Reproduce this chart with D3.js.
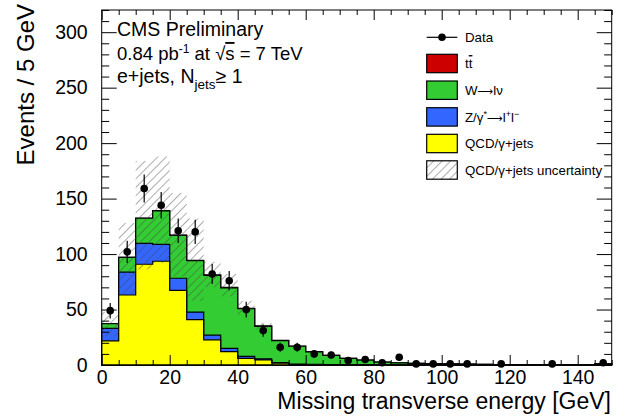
<!DOCTYPE html>
<html>
<head>
<meta charset="utf-8">
<script src="https://cdn.jsdelivr.net/npm/d3@7"></script>
<style>
  body { margin: 0; background: #fff; }
  text { font-family: "Liberation Sans", Arial, Helvetica, sans-serif; fill: #000; }
</style>
</head>
<body>
<div id="chart"></div>
<script>
// canvas constants
const WIDTH = 625;
const HEIGHT = 418;
const margin = { top: 10, right: 13.3, bottom: 53, left: 101.7 };

// binning: 5 GeV bins from 0 to 150
const binLow = d3.range(0, 150, 5);
const BIN = 5;

// MC components, events per bin
const qcd = [21.8, 63.1, 90.8, 93.5, 67.3, 40.9, 22.7, 12.0, 6.0, 4.6, 1.6, 0.4, 0.2, 0, 0,
             0, 0, 0, 0, 0, 0, 0, 0, 0, 0, 0, 0, 0, 0, 0];
const zll = [11.2, 20.6, 18.8, 15.3, 10.9, 6.8, 4.2, 2.9, 1.8, 1.0, 0.6, 0.4, 0.3, 0.2, 0.15,
             0.1, 0.1, 0.05, 0, 0, 0, 0, 0, 0, 0, 0, 0, 0, 0, 0];
const wlnu = [4.2, 13.3, 22.7, 30.1, 38.6, 46.3, 53.9, 54.7, 43.0, 29.3, 19.8, 16.1, 11.4, 8.4, 5.8,
              4.3, 2.5, 1.9, 1.4, 1.15, 0.95, 0.75, 0.55, 0.45, 0.4, 0.35, 0.3, 0.25, 0.2, 1.0];
const ttbar = [0.05, 0.1, 0.2, 0.3, 0.4, 0.4, 0.4, 0.4, 0.35, 0.3, 0.25, 0.2, 0.15, 0.12, 0.1,
               0.08, 0.06, 0.05, 0.04, 0.03, 0.03, 0.02, 0.02, 0.02, 0.01, 0.01, 0.01, 0.01, 0.01, 0.02];

// QCD uncertainty band (lower / upper edge of the hatched area), first bins only
const bandLo = [26, 63, 86, 92, 80, 58, 70, 62, 45, 32];
const bandHi = [48, 128, 184, 188, 155, 132, 93, 82, 58, 38];

// data counts
const dataN = [49, 102, 159, 144, 121, 120, 82, 76, 50, 31, 16, 16, 10, 9, 4,
               5, 2, 7, 1, 1, 1, 1, 0, 1, 0, 0, 1, 0, 0, 2];

// axis ticks
const xMajor = d3.range(0, 141, 20);
const xMinor = d3.range(0, 151, 5).filter(v => v % 20);
const yMajor = d3.range(0, 301, 50);
const yMinor = d3.range(0, 321, 10).filter(v => v % 50);

const COLORS = { tt: "#cc0000", w: "#33cc33", z: "#3366ff", qcd: "#ffff00" };

const svg = d3.select("#chart").append("svg")
  .attr("width", WIDTH)
  .attr("height", HEIGHT);

const x = d3.scaleLinear().domain([0, 150]).range([margin.left, WIDTH - margin.right]);
const y = d3.scaleLinear().domain([0, 320]).range([HEIGHT - margin.bottom, margin.top]);

// hatch pattern
svg.append("defs").append("pattern")
  .attr("id", "hatch")
  .attr("patternUnits", "userSpaceOnUse")
  .attr("width", 6).attr("height", 6)
  .attr("patternTransform", "rotate(45)")
  .append("line")
  .attr("x1", 0).attr("y1", 0).attr("x2", 0).attr("y2", 6)
  .attr("stroke", "#4a4a4a").attr("stroke-width", 0.9);

// turn bin values into step points (two per bin)
function steps(vals) {
  const pts = [];
  vals.forEach((v, i) => {
    pts.push([binLow[i], v]);
    pts.push([binLow[i] + BIN, v]);
  });
  return pts;
}

// stack the components
const rows = binLow.map((b, i) => ({ qcd: qcd[i], z: zll[i], w: wlnu[i], tt: ttbar[i] }));
const stack = d3.stack().keys(["qcd", "z", "w", "tt"])(rows);

const area = d3.area()
  .x(d => x(d[0]))
  .y0(y(0))
  .y1(d => y(d[1]));

// draw cumulative histograms from the top down
const gStack = svg.append("g");
stack.slice().reverse().forEach(layer => {
  const cum = layer.map(d => d[1]);
  gStack.append("path")
    .attr("d", area(steps(cum)))
    .attr("fill", COLORS[layer.key])
    .attr("stroke", "#000")
    .attr("stroke-width", 1.2);
});

// uncertainty band
const bandPts = [];
bandLo.forEach((lo, i) => {
  bandPts.push([binLow[i], lo, bandHi[i]]);
  bandPts.push([binLow[i] + BIN, lo, bandHi[i]]);
});
svg.append("path")
  .attr("d", d3.area().x(d => x(d[0])).y0(d => y(d[1])).y1(d => y(d[2]))(bandPts))
  .attr("fill", "url(#hatch)")
  .attr("stroke", "none");

// data points with sqrt(N) errors
const pts = binLow.map((b, i) => ({ c: b + BIN / 2, n: dataN[i] })).filter(d => d.n > 0);
const gData = svg.append("g");
gData.selectAll("line").data(pts).enter().append("line")
  .attr("x1", d => x(d.c)).attr("x2", d => x(d.c))
  .attr("y1", d => y(d.n - Math.sqrt(d.n)))
  .attr("y2", d => y(d.n + Math.sqrt(d.n)))
  .attr("stroke", "#000").attr("stroke-width", 1.2);
gData.selectAll("circle").data(pts).enter().append("circle")
  .attr("cx", d => x(d.c)).attr("cy", d => y(d.n))
  .attr("r", 3.8).attr("fill", "#000");

// axes
const x0 = HEIGHT - margin.bottom;
function style(g) {
  g.select(".domain").remove();
  g.selectAll("line").attr("stroke", "#000");
  g.selectAll("text").style("font-size", "19.5px")
    .style("font-family", '"Liberation Sans", Arial, sans-serif');
}
svg.append("g").attr("transform", `translate(0,${x0})`)
  .call(d3.axisBottom(x).tickValues(xMajor).tickSizeInner(-10).tickSizeOuter(0).tickPadding(5))
  .call(style);
svg.append("g").attr("transform", `translate(0,${x0})`)
  .call(d3.axisBottom(x).tickValues(xMinor).tickSizeInner(-5).tickSizeOuter(0).tickFormat(""))
  .call(style);
svg.append("g").attr("transform", `translate(0,${margin.top})`)
  .call(d3.axisTop(x).tickValues(xMajor).tickSizeInner(-10).tickSizeOuter(0).tickFormat(""))
  .call(style);
svg.append("g").attr("transform", `translate(0,${margin.top})`)
  .call(d3.axisTop(x).tickValues(xMinor).tickSizeInner(-5).tickSizeOuter(0).tickFormat(""))
  .call(style);
svg.append("g").attr("transform", `translate(${margin.left},0)`)
  .call(d3.axisLeft(y).tickValues(yMajor).tickSizeInner(-15).tickSizeOuter(0).tickPadding(14))
  .call(style);
svg.append("g").attr("transform", `translate(${margin.left},0)`)
  .call(d3.axisLeft(y).tickValues(yMinor).tickSizeInner(-7.5).tickSizeOuter(0).tickFormat(""))
  .call(style);
svg.append("g").attr("transform", `translate(${WIDTH - margin.right},0)`)
  .call(d3.axisRight(y).tickValues(yMajor).tickSizeInner(-15).tickSizeOuter(0).tickFormat(""))
  .call(style);
svg.append("g").attr("transform", `translate(${WIDTH - margin.right},0)`)
  .call(d3.axisRight(y).tickValues(yMinor).tickSizeInner(-7.5).tickSizeOuter(0).tickFormat(""))
  .call(style);

// frame
svg.append("rect")
  .attr("x", margin.left).attr("y", margin.top)
  .attr("width", WIDTH - margin.left - margin.right)
  .attr("height", HEIGHT - margin.top - margin.bottom)
  .attr("fill", "none").attr("stroke", "#000").attr("stroke-width", 1);

// axis titles
svg.append("text")
  .attr("x", WIDTH - 14).attr("y", 409)
  .style("text-anchor", "end").style("font-size", "23px")
  .text("Missing transverse energy [GeV]");
svg.append("text")
  .attr("transform", "translate(34,4) rotate(-90)")
  .style("text-anchor", "end").style("font-size", "24px")
  .text("Events / 5 GeV");

// CMS label block
svg.append("text").attr("x", 117).attr("y", 36).style("font-size", "19.5px")
  .text("CMS Preliminary");
const l2 = svg.append("text").attr("x", 117).attr("y", 60).style("font-size", "18.5px");
l2.append("tspan").text("0.84 pb");
l2.append("tspan").attr("dy", -7).style("font-size", "12px").text("-1");
l2.append("tspan").attr("dy", 7).text(" at ");
l2.append("tspan").text("\u221A");
l2.append("tspan").style("text-decoration", "overline").text("s");
l2.append("tspan").text(" = 7 TeV");
const l3 = svg.append("text").attr("x", 117).attr("y", 83).style("font-size", "19.5px");
l3.append("tspan").text("e+jets, N");
l3.append("tspan").attr("dy", 6).style("font-size", "13.5px").text("jets");
l3.append("tspan").attr("dy", -6).text("\u2265 1");

// legend
const LX = 426.7, LW = 30.6, LH = 18.4, TX = 465, LFS = 13.3;
const legend = svg.append("g");
const rowsY = [37.3, 63.5, 90.2, 116.9, 143.5, 170];
legend.append("line")
  .attr("x1", LX).attr("x2", LX + LW).attr("y1", rowsY[0]).attr("y2", rowsY[0])
  .attr("stroke", "#000").attr("stroke-width", 1.2);
legend.append("circle").attr("cx", LX + LW / 2).attr("cy", rowsY[0]).attr("r", 3.8);
const boxes = [COLORS.tt, COLORS.w, COLORS.z, COLORS.qcd, "url(#hatch)"];
boxes.forEach((c, i) => {
  legend.append("rect")
    .attr("x", LX).attr("y", rowsY[i + 1] - LH / 2)
    .attr("width", LW).attr("height", LH)
    .attr("fill", c).attr("stroke", "#000").attr("stroke-width", 1.2);
});
function lt(i) {
  return legend.append("text").attr("x", TX).attr("y", rowsY[i] + 4.6)
    .style("font-size", LFS + "px");
}
lt(0).text("Data");
const t1 = lt(1);
t1.append("tspan").text("t");
t1.append("tspan").style("text-decoration", "overline").text("t");
const t2 = lt(2);
t2.append("tspan").text("W");
t2.append("tspan").style("font-family", '"DejaVu Sans", sans-serif').style("font-size", "11px").text("\u27F6");
t2.append("tspan").text("l\u03BD");
const t3 = lt(3);
t3.append("tspan").text("Z/\u03B3");
t3.append("tspan").attr("dy", -5).style("font-size", "9px").text("*");
t3.append("tspan").attr("dy", 5).style("font-family", '"DejaVu Sans", sans-serif').style("font-size", "11px").text("\u27F6");
t3.append("tspan").text("l");
t3.append("tspan").attr("dy", -5).style("font-size", "9px").text("+");
t3.append("tspan").attr("dy", 5).text("l");
t3.append("tspan").attr("dy", -5).style("font-size", "9px").text("\u2212");
lt(4).text("QCD/\u03B3+jets");
lt(5).text("QCD/\u03B3+jets uncertainty");
</script>
</body>
</html>
